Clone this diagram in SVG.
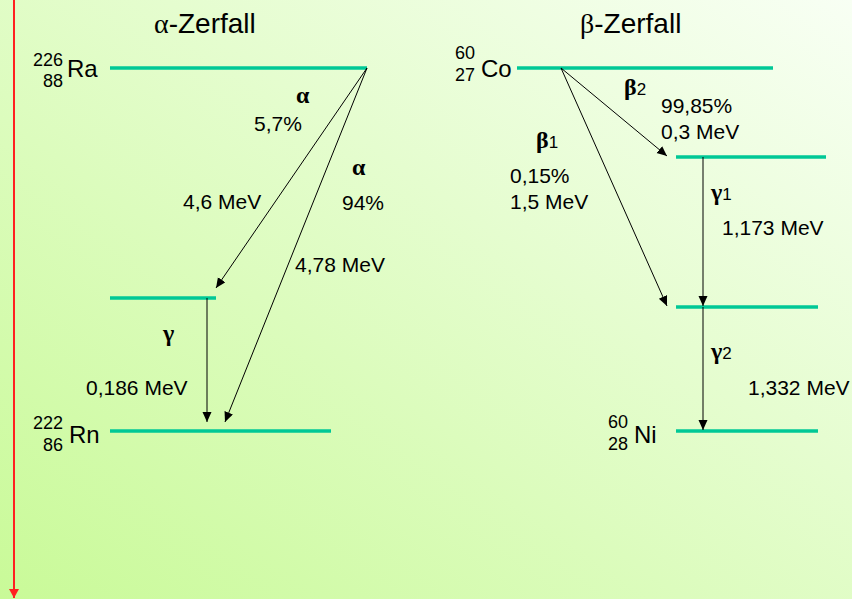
<svg xmlns="http://www.w3.org/2000/svg" width="852" height="599" viewBox="0 0 852 599">
<defs>
<linearGradient id="bg" x1="0" y1="1" x2="1" y2="0">
<stop offset="0" stop-color="#c9fa98"/>
<stop offset="1" stop-color="#f8fff4"/>
</linearGradient>
<marker id="ah" markerUnits="userSpaceOnUse" markerWidth="12" markerHeight="10" refX="10" refY="4.5" orient="auto">
<path d="M0,0 L10,4.5 L0,9 Z" fill="#000"/>
</marker>
<marker id="ahr" markerUnits="userSpaceOnUse" markerWidth="12" markerHeight="12" refX="9" refY="5" orient="auto">
<path d="M0,0 L9,5 L0,10 Z" fill="#ff2020"/>
</marker>
<style>
.lvl{stroke:#00c896;stroke-width:3.5;fill:none}
.arr{stroke:#000;stroke-width:1;fill:none;marker-end:url(#ah)}
text{font-family:"Liberation Sans",Arial,sans-serif;fill:#000}
.t{font-size:21px}
.title{font-size:28px}
.el{font-size:24px}
.nu{font-size:18px}
.gr{font-family:"Liberation Serif","Times New Roman",serif;font-weight:bold;font-size:24px}
.sub{font-size:17px}
.grt{font-family:"Liberation Serif","Times New Roman",serif}
</style>
</defs>
<rect width="852" height="599" fill="url(#bg)"/>
<line x1="14" y1="0" x2="14" y2="598" stroke="#ff2020" stroke-width="2" marker-end="url(#ahr)"/>

<text class="title" x="154" y="33"><tspan class="grt">α</tspan>-Zerfall</text>
<text class="title" x="580" y="33"><tspan class="grt">β</tspan>-Zerfall</text>

<g id="ra">
<line class="lvl" x1="110" y1="68" x2="367" y2="68"/>
<text class="nu" x="33" y="66">226</text>
<text class="nu" x="43" y="87">88</text>
<text class="el" x="67" y="77">Ra</text>
</g>
<g id="rn-excited">
<line class="lvl" x1="110" y1="298" x2="216" y2="298"/>
</g>
<g id="rn">
<line class="lvl" x1="110" y1="431" x2="331" y2="431"/>
<text class="nu" x="33" y="429">222</text>
<text class="nu" x="43" y="451">86</text>
<text class="el" x="69" y="443">Rn</text>
</g>
<g id="co">
<line class="lvl" x1="517" y1="68" x2="773" y2="68"/>
<text class="nu" x="455" y="59">60</text>
<text class="nu" x="455" y="81">27</text>
<text class="el" x="481" y="77">Co</text>
</g>
<g id="ni-excited2">
<line class="lvl" x1="676" y1="157" x2="826" y2="157"/>
</g>
<g id="ni-excited1">
<line class="lvl" x1="676" y1="307" x2="818" y2="307"/>
</g>
<g id="ni">
<line class="lvl" x1="676" y1="431" x2="818" y2="431"/>
<text class="nu" x="608" y="428">60</text>
<text class="nu" x="608" y="450">28</text>
<text class="el" x="634" y="443">Ni</text>
</g>

<g id="connectors">
<line class="arr" x1="367" y1="68" x2="216" y2="288"/>
<line class="arr" x1="367" y1="68" x2="225" y2="422"/>
<line class="arr" x1="207" y1="298" x2="207" y2="422"/>
<line class="arr" x1="561" y1="68" x2="667" y2="156"/>
<line class="arr" x1="561" y1="68" x2="667" y2="306"/>
<line class="arr" x1="703" y1="157" x2="703" y2="306"/>
<line class="arr" x1="703" y1="307" x2="703" y2="430"/>
</g>

<g id="labels">
<text class="gr" x="296" y="103">α</text>
<text class="t" x="254" y="131">5,7%</text>
<text class="gr" x="352" y="175">α</text>
<text class="t" x="342" y="210">94%</text>
<text class="t" x="183" y="209">4,6 MeV</text>
<text class="t" x="295" y="272">4,78 MeV</text>
<text class="gr" x="163" y="341">γ</text>
<text class="t" x="86" y="395">0,186 MeV</text>

<text class="gr" x="624" y="95">β<tspan class="sub" font-family="Liberation Sans" font-weight="normal">2</tspan></text>
<text class="t" x="661" y="113">99,85%</text>
<text class="t" x="661" y="139">0,3 MeV</text>
<text class="gr" x="536" y="148">β<tspan class="sub" font-family="Liberation Sans" font-weight="normal">1</tspan></text>
<text class="t" x="510" y="183">0,15%</text>
<text class="t" x="510" y="209">1,5 MeV</text>
<text class="gr" x="711" y="200">γ<tspan class="sub" font-family="Liberation Sans" font-weight="normal">1</tspan></text>
<text class="t" x="722" y="235">1,173 MeV</text>
<text class="gr" x="711" y="359">γ<tspan class="sub" font-family="Liberation Sans" font-weight="normal">2</tspan></text>
<text class="t" x="748" y="395">1,332 MeV</text>
</g>
</svg>
